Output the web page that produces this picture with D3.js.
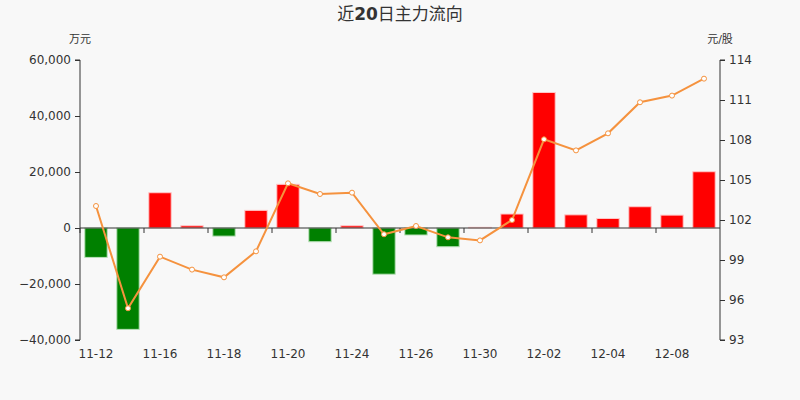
<!DOCTYPE html>
<html><head><meta charset="utf-8">
<script src="https://cdn.jsdelivr.net/npm/d3@7"></script>
<style>
html,body{margin:0;padding:0;background:#f8f8f8;}
text{font-family:"DejaVu Sans","Noto Sans CJK SC",sans-serif;}
</style></head>
<body><svg id="c" width="800" height="400"></svg>
<script>
const dates = ["11-12","11-13","11-16","11-17","11-18","11-19","11-20","11-23","11-24","11-25","11-26","11-27","11-30","12-01","12-02","12-03","12-04","12-07","12-08","12-09"];
const flows = [-10500,-36200,12600,800,-2900,6300,15600,-4900,800,-16500,-2500,-6700,250,5000,48400,4700,3400,7600,4600,20100];
const prices = [103.05,95.38,99.25,98.28,97.7,99.65,104.75,103.95,104.05,100.93,101.55,100.7,100.47,102.0,108.05,107.22,108.5,110.83,111.33,112.6];
const leftTicks = [-40000,-20000,0,20000,40000,60000];
const rightTicks = [93,96,99,102,105,108,111,114];
const labelIdx = [0,2,4,6,8,10,12,14,16,18];

const svg = d3.select("#c");
const L = 80, R = 720, T = 60, B = 340;
const x = d3.scaleBand().domain(dates).range([L, R]).paddingInner(0).paddingOuter(0);
const yL = d3.scaleLinear().domain([-40000, 60000]).range([B, T]);
const yR = d3.scaleLinear().domain([93, 114]).range([B, T]);

const title = svg.append("text").attr("x", 400).attr("y", 20).attr("text-anchor", "middle")
  .attr("font-size", 17).attr("fill", "#333");
title.append("tspan").text("近");
title.append("tspan").attr("font-weight", "bold").text("20");
title.append("tspan").text("日主力流向");
svg.append("text").attr("x", 80).attr("y", 43).attr("text-anchor", "middle")
  .attr("font-size", 11).attr("fill", "#333").text("万元");
svg.append("text").attr("x", 720).attr("y", 43).attr("text-anchor", "middle")
  .attr("font-size", 11).attr("fill", "#333").text("元/股");

// left axis
const gl = svg.append("g").attr("transform", `translate(${L},0)`)
  .call(d3.axisLeft(yL).tickValues(leftTicks).tickFormat(d3.format(",")).tickSize(5).tickPadding(4));
gl.selectAll("path,line").attr("stroke", "#333");
gl.selectAll("text").attr("font-size", 12).attr("fill", "#333").attr("font-family", "DejaVu Sans");
// right axis
const gr = svg.append("g").attr("transform", `translate(${R},0)`)
  .call(d3.axisRight(yR).tickValues(rightTicks).tickSize(5).tickPadding(4));
gr.selectAll("path,line").attr("stroke", "#333");
gr.selectAll("text").attr("font-size", 12).attr("fill", "#333").attr("font-family", "DejaVu Sans");
gl.select(".domain").attr("d", `M-5,${T}H0V${B}H-5`);
gr.select(".domain").attr("d", `M5,${T}H0V${B}H5`);

// bars
const bw = x.bandwidth() * 0.7;
svg.append("g").selectAll("rect").data(flows).join("rect")
  .attr("x", (d, i) => x(dates[i]) + (x.bandwidth() - bw) / 2)
  .attr("width", bw)
  .attr("y", d => d >= 0 ? yL(d) : yL(0))
  .attr("height", d => Math.abs(yL(d) - yL(0)))
  .attr("fill", d => d >= 0 ? "#ff0000" : "#008000")
  .attr("stroke", d => d >= 0 ? "#ffc8c8" : "#b8e0b8")
  .attr("stroke-width", 1);

// zero line with ticks
const gx = svg.append("g").attr("transform", `translate(0,${yL(0)})`);
gx.append("line").attr("x1", L).attr("x2", R).attr("stroke", "#333");
gx.selectAll("line.t").data(labelIdx).join("line").attr("class", "t")
  .attr("x1", i => x(dates[i])).attr("x2", i => x(dates[i]))
  .attr("y1", 0).attr("y2", 5).attr("stroke", "#333");
// x labels
svg.append("g").selectAll("text").data(labelIdx).join("text")
  .attr("x", i => x(dates[i]) + x.bandwidth() / 2).attr("y", 358)
  .attr("text-anchor", "middle").attr("font-size", 12).attr("fill", "#333")
  .text(i => dates[i]);

// line
const line = d3.line().x((d, i) => x(dates[i]) + x.bandwidth() / 2).y(d => yR(d));
svg.append("path").datum(prices).attr("d", line).attr("fill", "none")
  .attr("stroke", "#f5923e").attr("stroke-width", 2);
svg.append("g").selectAll("circle").data(prices).join("circle")
  .attr("cx", (d, i) => x(dates[i]) + x.bandwidth() / 2).attr("cy", d => yR(d))
  .attr("r", 2.5).attr("fill", "#fff").attr("stroke", "#f5923e").attr("stroke-width", 1);
</script></body></html>
